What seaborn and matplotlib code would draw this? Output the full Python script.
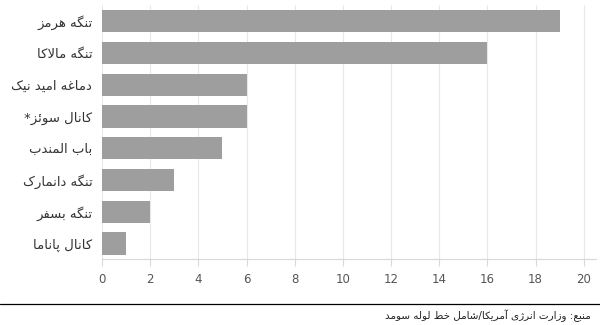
import matplotlib
matplotlib.use("Agg")
import matplotlib.pyplot as plt
from matplotlib.lines import Line2D
import seaborn as sns
import pandas as pd

# ---- data ----
categories = ["تنگه هرمز", "تنگه مالاکا", "دماغه امید نیک", "کانال سوئز*",
              "باب المندب", "تنگه دانمارک", "تنگه بسفر", "کانال پاناما"]
values = [19, 16, 6, 6, 5, 3, 2, 1]
xticks = [0, 2, 4, 6, 8, 10, 12, 14, 16, 18, 20]
source_text = "منبع: وزارت انرژی آمریکا/شامل خط لوله سومد"

# ---- minimal Arabic/Persian shaping (matplotlib has no shaping engine) ----
_order = [("\u0621", 1), ("\u0622", 2), ("\u0623", 2), ("\u0624", 2), ("\u0625", 2),
          ("\u0626", 4), ("\u0627", 2), ("\u0628", 4), ("\u0629", 2), ("\u062A", 4),
          ("\u062B", 4), ("\u062C", 4), ("\u062D", 4), ("\u062E", 4), ("\u062F", 2),
          ("\u0630", 2), ("\u0631", 2), ("\u0632", 2), ("\u0633", 4), ("\u0634", 4),
          ("\u0635", 4), ("\u0636", 4), ("\u0637", 4), ("\u0638", 4), ("\u0639", 4),
          ("\u063A", 4), ("\u0641", 4), ("\u0642", 4), ("\u0643", 4), ("\u0644", 4),
          ("\u0645", 4), ("\u0646", 4), ("\u0647", 4), ("\u0648", 2), ("\u0649", 2),
          ("\u064A", 4)]
FORMS = {}
_cp = 0xFE80
for ch, n in _order:
    FORMS[ch] = tuple(chr(_cp + k) for k in range(n))
    _cp += n
FORMS["\u067E"] = ("\uFB56", "\uFB57", "\uFB58", "\uFB59")
FORMS["\u0686"] = ("\uFB7A", "\uFB7B", "\uFB7C", "\uFB7D")
FORMS["\u0698"] = ("\uFB8A", "\uFB8B")
FORMS["\u06A9"] = ("\uFB8E", "\uFB8F", "\uFB90", "\uFB91")
FORMS["\u06AF"] = ("\uFB92", "\uFB93", "\uFB94", "\uFB95")
FORMS["\u06CC"] = ("\uFBFC", "\uFBFD", "\uFBFE", "\uFBFF")
LAMALEF = {"\u0622": ("\uFEF5", "\uFEF6"), "\u0623": ("\uFEF7", "\uFEF8"),
           "\u0625": ("\uFEF9", "\uFEFA"), "\u0627": ("\uFEFB", "\uFEFC")}


def _dual(c):
    return c in FORMS and len(FORMS[c]) == 4


def shape(text):
    out = []
    i = 0
    n = len(text)
    while i < n:
        c = text[i]
        if c not in FORMS:
            out.append(c)
            i += 1
            continue
        prev = text[i - 1] if i > 0 else ""
        cp = _dual(prev)
        if c == "\u0644" and i + 1 < n and text[i + 1] in LAMALEF:
            out.append(LAMALEF[text[i + 1]][1 if cp else 0])
            i += 2
            continue
        nxt = text[i + 1] if i + 1 < n else ""
        cn = _dual(c) and nxt in FORMS
        f = FORMS[c]
        if len(f) == 1:
            out.append(f[0])
        elif len(f) == 2:
            out.append(f[1] if cp else f[0])
        else:
            if cp and cn:
                out.append(f[3])
            elif cp:
                out.append(f[1])
            elif cn:
                out.append(f[2])
            else:
                out.append(f[0])
        i += 1
    return "".join(out)[::-1]


labels = [shape(c) for c in categories]
df = pd.DataFrame({"label": labels, "value": values})

# ---- plot ----
sns.set_theme(style="white")
plt.rcParams["font.family"] = ["DejaVu Sans"]

fig = plt.figure(figsize=(6, 3.25), dpi=100)
ax = fig.add_axes([0.17, 0.202, 0.823, 0.7815])
sns.barplot(data=df, y="label", x="value", color="#9e9e9e", saturation=1,
            width=0.7, ax=ax, orient="h", linewidth=0, edgecolor="none")

ax.set_xlim(0, 20.5)
ax.set_xticks(xticks)
ax.set_xlabel("")
ax.set_ylabel("")
ax.grid(axis="x", color="#e8e8e8", linewidth=0.8)
ax.set_axisbelow(True)
for s in ["top", "right", "left"]:
    ax.spines[s].set_visible(False)
ax.spines["bottom"].set_color("#d8d8d8")
ax.spines["bottom"].set_linewidth(0.8)
ax.tick_params(axis="x", bottom=True, direction="out", length=5, width=0.8,
               color="#d8d8d8", labelcolor="#555555", labelsize=8.5, pad=5)
ax.tick_params(axis="y", left=False, labelcolor="#333333", labelsize=9.5, pad=1)

fig.add_artist(Line2D([0.0, 1.0], [0.065, 0.065], color="black", linewidth=0.9,
                      transform=fig.transFigure))
fig.text(0.985, 0.03, shape(source_text), ha="right", va="center",
         fontsize=7.5, color="#222222")

fig.savefig("out.png", dpi=100)
